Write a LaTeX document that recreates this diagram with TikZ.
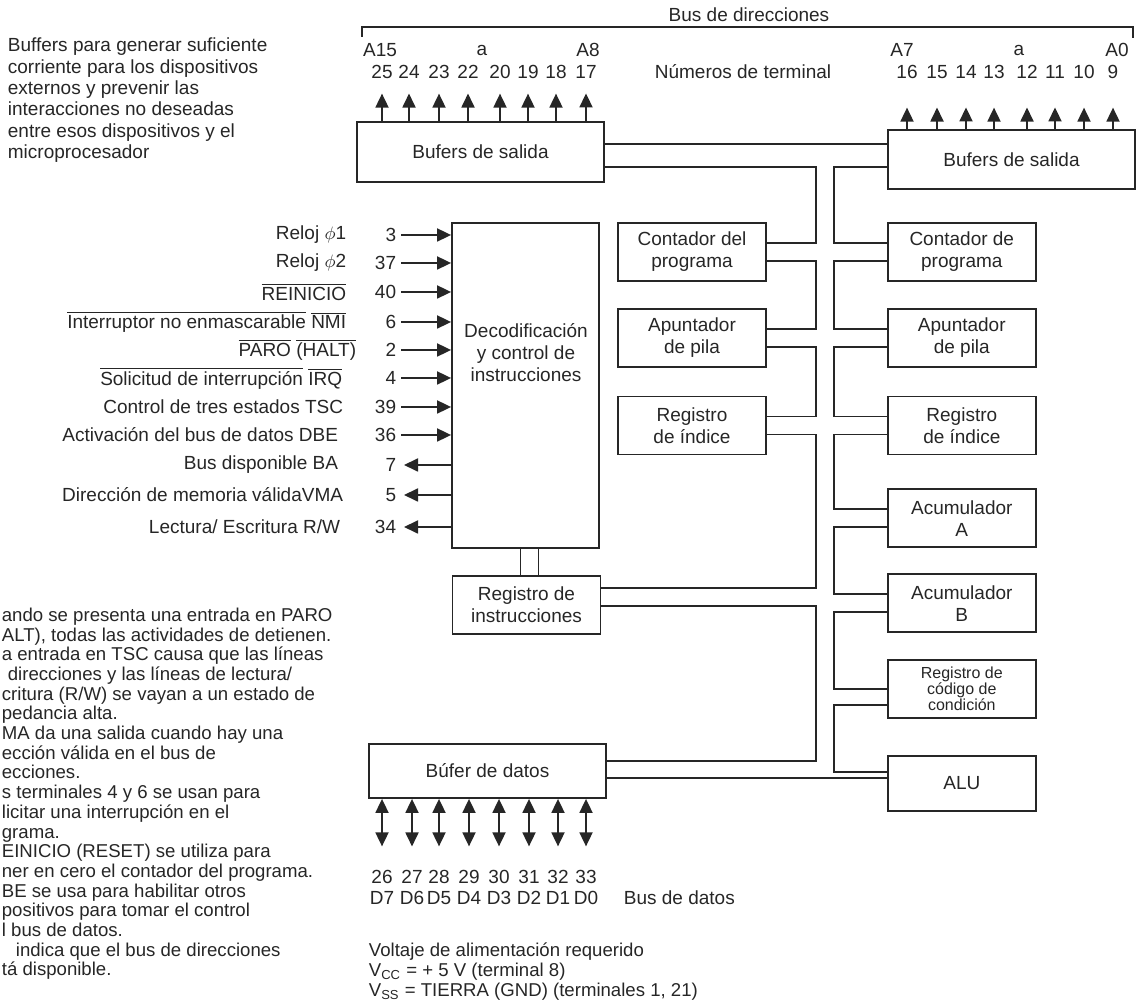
\documentclass[tikz,border=0pt]{standalone}
\usepackage{fontspec}
\setmainfont{Liberation Sans}
\usetikzlibrary{positioning, arrows.meta}

\newcommand{\ovl}[1]{$\overline{\mbox{#1}}$}

\begin{document}
\begin{tikzpicture}[
    x=0.5pt, y=-0.5pt, line width=0.9pt, color=black!85,
    >={Triangle[length=7pt,width=6.5pt]}, node distance=13pt,
    every node/.style={font=\fontsize{9.5pt}{11pt}\selectfont, inner sep=0pt},
    box/.style={draw, minimum width=74pt, minimum height=29pt, align=center},
    wide/.style={box, minimum width=123.5pt},
    note/.style={anchor=north west, align=left}
]
    \useasboundingbox (0,0) rectangle (1140,1004);

    % address bus
    \node (busd) at (749,15) {Bus de direcciones};
    \coordinate (brl) at (362,37);
    \coordinate (brr) at (1133,38);
    \draw (brl) -- ++(0,-10) -| (brr);
    \node (a15) at (380,50) {A15};
    \node (aa)  at (482,50) {a};
    \node (a8)  at (588,50) {A8};
    \node (a7)  at (902,50) {A7};
    \node (ab)  at (1019,50) {a};
    \node (a0)  at (1117,50) {A0};
    \node (numt) at (743,72) {Números de terminal};

    \node[note, font=\fontsize{9.5pt}{10.7pt}\selectfont] (nbuf) at (7,37)
        {Buffers para generar suficiente\\corriente para los dispositivos\\externos y prevenir las\\interacciones no deseadas\\entre esos dispositivos y el\\microprocesador};

    \node[wide, minimum height=30pt] (bufl) at (480.5,152) {Bufers de salida};
    \node[wide, minimum height=29.5pt] (bufr) at (1011.5,159.5) {Bufers de salida};

    \foreach \x/\p [count=\i] in {382/25, 409/24, 439/23, 468/22, 500/20, 528/19, 556/18, 586/17}{
        \node (an\i) at (\x,72) {\p};
        \draw[->] (an\i |- bufl.north) -- ([yshift=-7pt]an\i.south);
    }
    \foreach \x/\p [count=\i] in {907/16, 937/15, 966/14, 994/13, 1027/12, 1055/11, 1084/10, 1113/9}{
        \node (bn\i) at (\x,72) {\p};
        \draw[->] (bn\i |- bufr.north) -- ([yshift=-14pt]bn\i.south);
    }

    % control unit
    \node[box, minimum width=73.5pt, minimum height=162.5pt] (dec) at (525.5,385.5) {};
    \node[align=center] (dect) at (526,353) {Decodificación\\y control de\\instrucciones};
    \node[box] (irg) at (526.5,605) {Registro de\\instrucciones};
    \coordinate (d1) at ([xshift=-2.5pt]dec.south);
    \coordinate (d2) at ([xshift=6.5pt]dec.south);
    \draw (d1) -- (d1 |- irg.north);
    \draw (d2) -- (d2 |- irg.north);

    \foreach \y/\p/\xl/\t [count=\i] in {
        235/3/347/{Reloj $\phi$1},
        263/37/347/{Reloj $\phi$2},
        292/40/347/{\ovl{REINICIO}},
        322/6/347/{\ovl{Interruptor no enmascarable} \ovl{NMI}},
        350/2/357/{\ovl{PARO} \ovl{(HALT)}},
        378/4/343/{\ovl{Solicitud de interrupción} \ovl{IRQ}},
        407/39/344/{Control de tres estados TSC},
        435/36/339/{Activación del bus de datos DBE}}{
        \node[anchor=east] (sl\i) at (\xl,\y) {\t};
        \node[anchor=east, inner sep=2pt] (sp\i) at (401,\y) {\p};
        \draw[->] (sp\i.east) -- (sp\i -| dec.west);
    }
    \foreach \y/\p/\xl/\t [count=\i] in {
        465/7/339/{Bus disponible BA},
        495/5/344/{Dirección de memoria válidaVMA},
        527/34/341/{Lectura/ Escritura R/W}}{
        \node[anchor=east] (ol\i) at (\xl,\y) {\t};
        \node[anchor=east, inner sep=3.5pt] (op\i) at (404,\y) {\p};
        \draw[->] (op\i -| dec.west) -- (op\i.east);
    }

    % registers
    \node[box] (pcl) at (692,252) {Contador del\\programa};
    \node[box, below=13pt of pcl] (spl) {Apuntador\\de pila};
    \node[box, below=14pt of spl] (ixl) {Registro\\de índice};
    \node[box, right=60pt of pcl] (pcr) {Contador de\\programa};
    \node[box, right=60pt of spl] (spr) {Apuntador\\de pila};
    \node[box, right=60pt of ixl] (ixr) {Registro\\de índice};
    \node[box, below=16.5pt of ixr] (acA) {Acumulador\\A};
    \node[box, below=12.5pt of acA] (acB) {Acumulador\\B};
    \node[box, below=13pt of acB, font=\fontsize{8pt}{8pt}\selectfont] (ccr) {Registro de\\código de\\condición};
    \node[box, below=18pt of ccr, minimum height=27.5pt] (alu) {ALU};

    % data bus
    \node[box, minimum width=118.5pt, minimum height=27pt] (dbuf) at (487.5,771) {Búfer de datos};
    \foreach \x/\p/\d [count=\i] in {382/26/D7, 412/27/D6, 439/28/D5, 469/29/D4, 499/30/D3, 529/31/D2, 558/32/D1, 586/33/D0}{
        \node (dp\i) at (\x,877) {\p};
        \node (dd\i) at (\x,898) {\d};
        \draw[<->] (dp\i |- dbuf.south) -- ([yshift=11.5pt]dp\i.north);
    }
    \node[anchor=west] (busdat) at (623,898) {Bus de datos};

    % internal bus (double lines)
    \coordinate (wl) at (816,0);
    \coordinate (wr) at (834,0);
    \coordinate (tt) at ([yshift=4pt]bufl.east);
    \coordinate (bb) at ([yshift=-3.5pt]dbuf.east);
    \draw (tt) -- (tt -| bufr.west);
    \draw (bb) -- (bb -| alu.west);
    \draw ([yshift=-7.5pt]bufl.east) -| (wl |- bufl.south) |- ([yshift=4.5pt]pcl.east);
    \draw ([yshift=-4.5pt]pcl.east) -| (wl |- pcl.south) |- ([yshift=4.5pt]spl.east);
    \draw ([yshift=-4.5pt]spl.east) -| (wl |- spl.south) |- ([yshift=4.5pt]ixl.east);
    \draw ([yshift=-4.5pt]ixl.east) -| (wl |- ixl.south) |- ([yshift=8.5pt]irg.east);
    \draw ([yshift=-0.5pt]irg.east) -| (wl |- irg.south) |- ([yshift=5pt]dbuf.east);

    \draw ([yshift=-3.75pt]bufr.west) -| (wr |- bufr.south) |- ([yshift=4.5pt]pcr.west);
    \draw ([yshift=-4.5pt]pcr.west) -| (wr |- pcr.south) |- ([yshift=4.5pt]spr.west);
    \draw ([yshift=-4.5pt]spr.west) -| (wr |- spr.south) |- ([yshift=4.5pt]ixr.west);
    \draw ([yshift=-4.5pt]ixr.west) -| (wr |- ixr.south) |- ([yshift=4.5pt]acA.west);
    \draw ([yshift=-4.5pt]acA.west) -| (wr |- acA.south) |- ([yshift=4.5pt]acB.west);
    \draw ([yshift=-4.5pt]acB.west) -| (wr |- acB.south) |- (ccr.west);
    \draw ([yshift=-8pt]ccr.west) -| (wr |- ccr.south) |- ([yshift=5.75pt]alu.west);

    % notes
    \node[note, font=\fontsize{9.3pt}{9.85pt}\selectfont] (nctl) at (1,607)
        {ando se presenta una entrada en PARO\\ALT), todas las actividades de detienen.\\a entrada en TSC causa que las líneas\\\hspace*{3pt}direcciones y las líneas de lectura/\\critura (R/W) se vayan a un estado de\\pedancia alta.\\MA da una salida cuando hay una\\ección válida en el bus de\\ecciones.\\s terminales 4 y 6 se usan para\\licitar una interrupción en el\\grama.\\EINICIO (RESET) se utiliza para\\ner en cero el contador del programa.\\BE se usa para habilitar otros\\positivos para tomar el control\\l bus de datos.\\\hspace*{7pt}indica que el bus de direcciones\\tá disponible.};

    \node[note, font=\fontsize{9.3pt}{10pt}\selectfont] (volt) at (368,942)
        {Voltaje de alimentación requerido\\V\textsubscript{CC} = + 5 V (terminal 8)\\V\textsubscript{SS} = TIERRA (GND) (terminales 1, 21)};
\end{tikzpicture}
\end{document}
